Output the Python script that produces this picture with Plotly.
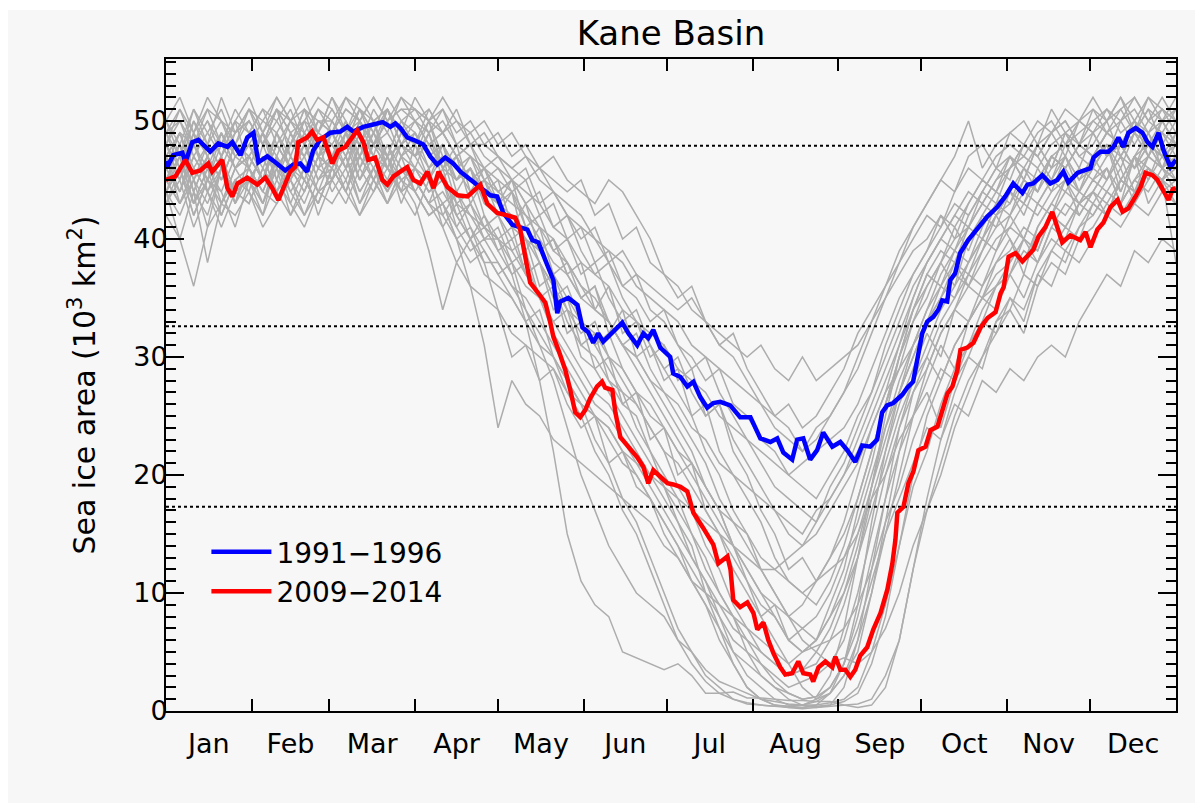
import plotly.graph_objects as go

# ---------------- data ----------------
month_names = ["Jan", "Feb", "Mar", "Apr", "May", "Jun", "Jul", "Aug", "Sep", "Oct", "Nov", "Dec"]
month_starts = [31, 59, 90, 120, 151, 181, 212, 243, 273, 304, 334]
month_mids = [15.5, 45, 74.5, 105, 135.5, 166, 196.5, 227.5, 258, 288.5, 319, 349.5]
y_ticks = [0, 10, 20, 30, 40, 50]
ref_levels = [47.9, 32.6, 17.3]

blue_label = "1991\u22121996"
red_label = "2009\u22122014"

blue_days = [0, 0.5, 2.6, 5.9, 7, 9.5, 11.7, 16, 18.9, 22.2,
             24, 26.9, 29.4, 31.6, 33.4, 36.6, 39.5, 43.1, 46, 48.5,
             51, 53.2, 55.7, 59.4, 63, 65.5, 67.7, 71.3, 74.9, 78.3,
             81.1, 82.9, 84.7, 87.2, 89.4, 93, 95.5, 98, 100.9, 103.8,
             106.4, 110, 113.6, 117.2, 119.7, 121.9, 125.2, 128.8, 130.6, 132.4,
             134.6, 137.1, 138.9, 140, 141.4, 142.5, 145.4, 148.7, 150.5, 152.6,
             154.4, 156.2, 158, 161.3, 164.9, 167.1, 170.3, 172.5, 174.3, 176.1,
             178.6, 182.2, 183.3, 185.9, 188.4, 190.6, 193.1, 195.6, 197.8, 200.3,
             203.9, 207.5, 211.2, 214.8, 218.4, 220.9, 223.1, 226.3, 228.1, 230.3,
             232.8, 235.3, 237.5, 240.8, 243.7, 246.2, 249.1, 251.6, 254.5, 257,
             258.8, 260.6, 262.8, 266.1, 267.9, 270, 271.8, 273.3, 275.1, 277.3,
             279.1, 280.5, 282.3, 283.4, 285.2, 287, 289.9, 293.2, 296.8, 300.4,
             303.3, 306.2, 309.5, 311.3, 313.4, 316.7, 319.6, 322.1, 324.3, 326.1,
             329.4, 331.6, 334.1, 335.2, 337.7, 340.6, 342.4, 344.2, 346, 347.8,
             350.4, 352.9, 354.7, 356.5, 358.7, 360.5, 363, 365]
blue_vals = [46.6, 46.1, 47.1, 47.3, 46.5, 48.2, 48.4, 47.4, 48.1, 47.8,
             48.2, 47.1, 48.6, 49.0, 46.5, 47.0, 46.5, 45.8, 46.3, 46.4,
             45.7, 47.5, 48.4, 49.0, 49.1, 49.5, 49.1, 49.5, 49.7, 49.9,
             49.5, 49.8, 49.4, 48.6, 48.4, 48.0, 47.0, 46.3, 46.9, 46.4,
             45.7, 45.0, 44.4, 43.7, 43.6, 42.2, 41.2, 40.9, 40.8, 39.9,
             39.7, 38.2, 37.1, 36.5, 33.7, 34.7, 35.0, 34.4, 32.5, 32.1,
             31.2, 32.0, 31.3, 32.1, 32.9, 32.0, 31.0, 32.0, 31.6, 32.3,
             30.8, 30.0, 28.6, 28.3, 27.5, 27.9, 26.6, 25.7, 26.1, 26.2,
             25.9, 24.9, 24.9, 23.1, 22.8, 23.1, 21.9, 21.3, 23.0, 23.1,
             21.3, 22.1, 23.6, 22.4, 22.8, 22.1, 21.1, 22.5, 22.4, 23.0,
             25.3, 25.9, 26.1, 26.8, 27.4, 27.9, 30.0, 32.0, 33.0, 33.4,
             34.0, 34.8, 34.7, 36.5, 37.1, 38.8, 39.9, 40.8, 41.9, 42.7,
             43.6, 44.7, 43.9, 44.6, 44.7, 45.4, 44.7, 45.0, 45.7, 44.8,
             45.6, 45.8, 46.0, 46.9, 47.4, 47.4, 47.8, 48.6, 47.8, 49.0,
             49.4, 49.0, 48.2, 47.8, 49.0, 47.5, 46.1, 46.7]

red_days = [0, 3.4, 7, 9.5, 12.4, 15.3, 16.7, 20.3, 22.2, 24,
            25.8, 29.4, 33, 35.9, 38.4, 40.6, 43.1, 44.9, 46.7, 47.8,
            51, 52.8, 54.6, 56.9, 60.1, 62.3, 64.8, 67.3, 69.1, 71.3,
            73.1, 75.6, 78.2, 80, 82.2, 84.7, 87.2, 89.4, 91.9, 94.5,
            96.7, 98.5, 101.7, 105.4, 109, 111.8, 113.6, 116.1, 119.7, 123.3,
            126.2, 128, 129.8, 131.6, 134.6, 137.1, 138.9, 140, 141.8, 144.3,
            146.1, 147.9, 149.7, 151.5, 153.3, 155.8, 157.6, 158.7, 161.3, 162.4,
            164.2, 167.1, 170.3, 172.5, 174.3, 176.1, 178.6, 181.2, 183.3, 185.9,
            188.4, 190.6, 193.9, 195.6, 197.8, 199.6, 202.9, 204, 205, 207.5,
            210.1, 212.3, 213.7, 215.9, 217.7, 219.5, 222, 223.8, 226.3, 228.5,
            230.3, 232.8, 233.9, 235.8, 238.3, 240.8, 241.9, 243.7, 245.5, 247.3,
            249.1, 250.9, 253.4, 255.6, 258.2, 260.7, 262.5, 263.6, 264.3, 266.5,
            268.3, 270.1, 271.9, 274.5, 276.3, 278.8, 280.6, 282.4, 284.2, 286,
            287.1, 289.6, 291.8, 294.4, 296.9, 299.8, 301.6, 302.7, 304.5, 307,
            309.5, 311.7, 313.5, 315.3, 317.8, 320.3, 322.1, 323.9, 326.8, 330.4,
            332.3, 334.1, 336.6, 338.8, 341.3, 343.9, 345.7, 347.8, 350.4, 352.2,
            354, 356.5, 358.3, 360.5, 362.3, 363.8, 365]
red_vals = [45.0, 45.3, 46.7, 45.6, 45.8, 46.4, 45.7, 46.7, 44.3, 43.6,
            44.7, 45.2, 44.6, 45.2, 44.3, 43.3, 44.7, 45.7, 46.1, 48.2,
            48.6, 49.1, 48.4, 48.6, 46.4, 47.5, 47.8, 48.6, 49.2, 48.2,
            46.7, 46.9, 45.0, 44.6, 45.3, 45.7, 46.1, 45.0, 44.7, 45.7,
            44.3, 45.7, 44.4, 43.7, 43.6, 44.2, 44.6, 43.0, 42.2, 42.0,
            41.8, 40.8, 38.5, 36.3, 35.4, 34.6, 32.9, 31.7, 30.6, 28.9,
            27.2, 25.3, 24.9, 25.5, 26.5, 27.5, 27.9, 27.4, 27.2, 25.3,
            23.2, 22.4, 21.5, 20.7, 19.3, 20.4, 19.8, 19.3, 19.2, 19.0,
            18.6, 16.8, 15.6, 14.9, 14.1, 12.5, 13.1, 12.0, 9.4, 8.8,
            9.2, 8.3, 6.9, 7.5, 6.0, 4.9, 3.7, 3.1, 3.2, 4.2,
            3.2, 3.1, 2.5, 3.7, 4.2, 3.7, 4.6, 3.5, 3.5, 2.9,
            3.5, 4.7, 5.4, 6.9, 8.3, 10.3, 12.5, 14.5, 16.8, 17.3,
            19.3, 20.3, 22.1, 22.4, 23.8, 24.1, 25.5, 26.9, 27.5, 28.9,
            30.6, 30.8, 31.2, 32.5, 33.3, 33.8, 35.4, 35.9, 38.5, 38.8,
            38.1, 38.6, 39.1, 40.2, 41.0, 42.3, 41.0, 39.7, 40.3, 39.9,
            40.6, 39.3, 40.8, 41.4, 42.7, 43.3, 42.3, 42.6, 43.6, 44.4,
            45.6, 45.4, 45.0, 44.0, 43.3, 44.2, 44.3]

# individual years (grey), sampled every 5 days (day 0 .. 365)
gray_days = list(range(0, 366, 5))
gray_a = [49, 50, 48, 51, 50, 49, 51, 50, 52, 50, 49, 51, 50, 52, 51, 50, 51, 49, 50, 51, 49, 50, 48, 49,
          47, 46, 47, 45, 44, 42, 41, 40, 38, 39, 37, 36, 35, 34, 35, 33, 32, 31, 30, 31, 29, 28, 30, 28, 29,
          30, 31, 33, 35, 37, 39, 40, 42, 41, 43, 45, 44, 46, 47, 46, 48, 49, 48, 50, 49, 51, 52, 50, 51, 50]
gray_b = [47, 49, 46, 48, 50, 47, 48, 50, 49, 51, 48, 50, 49, 51, 50, 52, 50, 51, 51, 50, 52, 50, 49, 50,
          48, 49, 47, 46, 47, 45, 44, 43, 45, 44, 42, 40, 37, 36, 34, 33, 31, 30, 28, 26, 24, 23, 22, 24, 25,
          27, 29, 32, 35, 38, 40, 42, 41, 44, 46, 45, 47, 48, 47, 49, 50, 48, 49, 50, 51, 49, 50, 52, 51, 49]
gray_c = [46, 44, 47, 45, 43, 46, 47, 45, 48, 46, 44, 47, 48, 46, 47, 49, 46, 45, 46, 44, 45, 43, 42, 40,
          40, 37, 33, 28, 22, 15, 11, 9, 8, 5, 4.5, 4, 3.5, 4, 3, 1.5, 1.5, 1.6, 1.1, 1.1, 1, 0.9, 0.9, 0.8, 0.8,
          0.5, 0.3, 0.5, 2, 6, 12, 18, 23, 27, 30, 33, 36, 38, 40, 39, 42, 41, 43, 44, 43, 45, 47, 46, 45, 46]
gray_d = [44, 42, 45, 43, 46, 44, 45, 47, 44, 46, 45, 43, 46, 44, 47, 45, 48, 46, 45, 43, 46, 42, 40, 38,
          38, 36, 34, 31, 28, 24, 20, 17, 14, 12, 10, 9, 8, 6, 5, 3.5, 2.5, 2, 1.5, 1, 0.8, 0.6, 0.5, 0.5, 0.7,
          1, 2, 5, 9, 14, 19, 22, 26, 29, 31, 34, 36, 37, 40, 38, 41, 43, 42, 44, 46, 43, 45, 47, 46, 44]
gray_e = [48, 46, 49, 47, 45, 48, 47, 49, 46, 48, 50, 47, 49, 47, 50, 48, 49, 47, 48, 46, 47, 45, 46, 44,
          43, 41, 40, 38, 36, 33, 31, 30, 28, 26, 25, 22, 20, 18, 15, 13, 10, 8, 5, 3, 2, 1, 0.5, 0.3, 0.5,
          2, 6, 12, 18, 24, 28, 31, 34, 36, 38, 40, 42, 43, 45, 44, 46, 47, 45, 47, 48, 46, 49, 48, 47, 48]
gray_f = [45, 47, 43, 46, 44, 47, 46, 44, 47, 45, 48, 46, 47, 49, 46, 48, 47, 50, 49, 47, 48, 46, 47, 45,
          44, 45, 43, 41, 40, 38, 36, 35, 33, 31, 30, 28, 26, 24, 22, 19, 17, 14, 11, 8, 6, 4, 2, 1, 1.5,
          3, 5, 10, 16, 22, 27, 30, 33, 35, 37, 39, 41, 42, 40, 43, 45, 44, 46, 45, 47, 48, 46, 47, 49, 47]
gray_g = [42, 40, 44, 38, 43, 45, 44, 41, 43, 45, 42, 44, 45, 43, 46, 44, 47, 45, 46, 44, 45, 42, 43, 41,
          40, 39, 37, 35, 32, 30, 28, 26, 25, 23, 21, 19, 17, 15, 13, 11, 9, 7, 6, 5, 4, 3, 3.5, 4, 6,
          9, 13, 18, 22, 26, 29, 32, 30, 34, 36, 35, 38, 39, 41, 40, 42, 44, 43, 45, 44, 46, 43, 45, 47, 45]
gray_h = [47, 45, 48, 46, 49, 47, 48, 46, 49, 47, 45, 48, 47, 49, 48, 50, 47, 48, 47, 48, 46, 45, 46, 43,
          42, 40, 41, 38, 36, 34, 33, 31, 29, 27, 26, 24, 22, 21, 19, 17, 15, 13, 11, 9, 8, 6, 5, 6, 8,
          11, 15, 19, 24, 28, 31, 34, 36, 38, 37, 40, 42, 44, 43, 45, 47, 46, 48, 47, 49, 48, 50, 48, 47, 49]
gray_i = [50, 48, 51, 49, 47, 50, 49, 51, 48, 50, 52, 49, 51, 49, 52, 50, 51, 48, 49, 47, 48, 46, 44, 45,
          43, 42, 40, 39, 37, 35, 33, 32, 30, 29, 27, 25, 24, 22, 21, 19, 17, 16, 15, 13, 12, 11, 10, 11, 13,
          15, 18, 22, 26, 30, 33, 36, 38, 40, 41, 43, 45, 46, 48, 47, 49, 50, 48, 49, 51, 50, 48, 50, 52, 50]
gray_j = [46, 48, 45, 47, 49, 46, 47, 49, 46, 48, 47, 49, 48, 50, 47, 49, 51, 48, 50, 48, 49, 47, 45, 46,
          44, 43, 42, 40, 38, 37, 35, 34, 33, 31, 30, 28, 27, 26, 24, 23, 21, 20, 19, 18, 17, 16, 15, 17, 18,
          20, 22, 25, 28, 31, 34, 37, 39, 38, 41, 43, 42, 44, 46, 45, 47, 46, 48, 47, 49, 48, 46, 48, 50, 48]
gray_k = [49, 47, 50, 48, 46, 49, 50, 48, 51, 49, 47, 50, 49, 51, 50, 48, 50, 52, 51, 49, 50, 48, 49, 47,
          46, 45, 44, 43, 41, 40, 38, 37, 36, 34, 33, 32, 31, 29, 28, 27, 25, 24, 23, 22, 21, 20, 21, 22, 23,
          24, 26, 29, 32, 35, 37, 39, 41, 43, 42, 44, 46, 47, 46, 48, 49, 47, 50, 49, 50, 52, 50, 49, 51, 50]
gray_l = [43, 45, 41, 44, 46, 43, 45, 43, 46, 44, 42, 45, 46, 44, 47, 45, 43, 46, 44, 42, 43, 41, 39, 40,
          38, 36, 35, 33, 31, 29, 27, 25, 24, 22, 20, 18, 16, 14, 11, 9, 6, 4, 2, 1, 0.5, 0.3, 0.2, 0.3, 0.4,
          0.5, 0.6, 1, 3, 6, 12, 17, 21, 25, 28, 30, 33, 34, 32, 36, 38, 37, 40, 41, 43, 42, 44, 46, 45, 43]
gray_m = [48, 50, 47, 49, 51, 48, 50, 48, 51, 49, 50, 52, 51, 49, 50, 52, 50, 51, 50, 49, 51, 48, 47, 46,
          45, 44, 42, 41, 39, 38, 36, 34, 33, 31, 29, 27, 25, 23, 21, 19, 17, 14, 12, 10, 9, 8, 9, 11, 13,
          16, 20, 24, 27, 31, 35, 38, 40, 42, 44, 43, 45, 47, 45, 48, 46, 49, 47, 46, 48, 44, 47, 43, 45, 38]
gray_n = [44, 40, 36, 41, 43, 42, 44, 42, 45, 43, 41, 44, 43, 45, 42, 44, 46, 44, 45, 43, 41, 38, 40, 37,
          36, 35, 33, 31, 30, 28, 26, 25, 23, 21, 20, 18, 16, 14, 12, 10, 8, 6, 5, 4, 3, 2, 2.5, 3, 4,
          6, 10, 15, 20, 24, 27, 29, 32, 34, 33, 36, 38, 40, 38, 41, 43, 42, 44, 43, 45, 47, 44, 46, 45, 47]
gray_o = [47, 49, 48, 50, 48, 51, 49, 51, 50, 48, 51, 50, 50, 48, 51, 49, 52, 50, 51, 50, 49, 51, 48, 48,
          47, 46, 45, 46, 44, 43, 42, 40, 39, 38, 36, 35, 34, 33, 31, 30, 29, 28, 27, 26, 25, 26, 24, 25, 27,
          29, 32, 34, 36, 38, 41, 43, 45, 47, 50, 46, 48, 49, 50, 48, 51, 49, 50, 51, 50, 52, 49, 51, 50, 52]
gray_p = [45, 43, 46, 44, 42, 45, 46, 44, 43, 45, 47, 44, 45, 47, 44, 46, 43, 45, 43, 39, 34, 38, 36, 35,
          34, 32, 31, 30, 29, 27, 26, 25, 24, 22, 21, 20, 19, 18, 17, 16, 15, 14, 13, 12, 12, 13, 14, 15, 17,
          19, 21, 24, 27, 29, 31, 33, 35, 37, 36, 38, 40, 41, 43, 42, 44, 45, 43, 45, 46, 44, 47, 48, 46, 45]
gray_q = [46, 48, 44, 47, 45, 48, 47, 45, 48, 46, 49, 47, 46, 48, 45, 47, 46, 44, 45, 43, 42, 40, 36, 31,
          24, 28, 26, 25, 23, 22, 21, 20, 19, 18, 17, 16, 14, 13, 11, 10, 9, 8, 7, 6, 5, 4, 5, 6, 8,
          10, 13, 17, 21, 25, 28, 30, 28, 31, 33, 35, 36, 37, 35, 38, 40, 39, 41, 42, 44, 43, 45, 44, 46, 45]
gray_r = [44, 46, 43, 45, 47, 44, 45, 47, 44, 46, 48, 45, 47, 45, 48, 46, 44, 47, 46, 45, 43, 44, 42, 41,
          40, 38, 36, 35, 33, 31, 29, 27, 26, 24, 22, 20, 18, 16, 13, 11, 8, 5, 3, 2, 1, 0.5, 0.5, 1, 2,
          4, 7, 11, 15, 18, 21, 24, 23, 26, 25, 28, 27, 29, 28, 30, 31, 30, 33, 35, 37, 36, 39, 38, 40, 39]
gray_s = [47, 43, 45, 41, 46, 44, 45, 42, 47, 43, 46, 44, 47, 44, 48, 45, 47, 43, 46, 44, 45, 41, 43, 40,
          41, 38, 39, 35, 36, 32, 33, 29, 30, 26, 27, 23, 24, 20, 21, 17, 15, 12, 10, 8, 9, 6, 7, 6, 9,
          12, 17, 21, 26, 29, 33, 35, 38, 36, 40, 42, 41, 44, 43, 46, 44, 47, 45, 46, 48, 45, 47, 49, 46, 47]
gray_t = [50, 47, 51, 48, 52, 49, 50, 48, 51, 47, 50, 49, 52, 49, 51, 48, 50, 47, 49, 46, 48, 45, 47, 44,
          45, 41, 43, 39, 40, 37, 38, 34, 36, 32, 33, 30, 31, 28, 29, 25, 26, 22, 20, 17, 15, 12, 13, 11, 12,
          13, 15, 18, 20, 23, 25, 27, 24, 28, 30, 29, 33, 35, 33, 37, 39, 38, 41, 43, 42, 45, 44, 47, 46, 48]
gray_u = [45, 48, 44, 47, 43, 46, 48, 45, 49, 46, 44, 47, 46, 49, 45, 48, 46, 49, 47, 45, 48, 44, 46, 42,
          40, 41, 37, 38, 34, 35, 31, 32, 28, 27, 24, 22, 19, 16, 14, 10, 7, 4, 2, 1, 0.5, 0.4, 0.3, 0.5, 1.5,
          4, 9, 16, 22, 27, 31, 34, 37, 39, 38, 41, 43, 42, 45, 44, 47, 46, 48, 47, 49, 48, 50, 47, 49, 48]
gray_v = [48, 51, 49, 52, 50, 48, 51, 49, 52, 50, 51, 49, 52, 50, 48, 51, 49, 52, 50, 48, 49, 47, 48, 45,
          46, 44, 45, 42, 43, 40, 41, 38, 39, 36, 35, 33, 34, 31, 30, 28, 29, 26, 25, 23, 22, 20, 19, 18, 20,
          22, 25, 27, 30, 33, 36, 38, 40, 42, 41, 44, 46, 45, 48, 47, 49, 50, 48, 51, 49, 50, 52, 50, 49, 51]
gray_w = [44, 46, 42, 45, 47, 43, 46, 44, 47, 45, 43, 46, 45, 47, 44, 46, 48, 45, 44, 42, 43, 40, 41, 38,
          34, 30, 31, 28, 29, 26, 24, 25, 21, 22, 19, 18, 15, 13, 11, 9, 7, 5, 4, 3, 2, 1.5, 1, 1.2, 2,
          4, 8, 13, 18, 22, 25, 28, 31, 29, 33, 35, 34, 37, 39, 38, 41, 40, 43, 42, 44, 43, 45, 46, 44, 45]
gray_x = [46, 44, 47, 45, 48, 46, 47, 45, 48, 46, 49, 47, 48, 46, 49, 47, 45, 48, 47, 49, 46, 47, 45, 46,
          44, 45, 43, 44, 41, 42, 39, 37, 38, 35, 33, 31, 29, 27, 25, 22, 20, 17, 15, 12, 10, 8, 6, 5, 4,
          4.5, 4, 5, 7, 10, 14, 17, 20, 24, 27, 30, 32, 34, 37, 36, 39, 41, 40, 43, 42, 45, 44, 46, 45, 47]
gray_y = [49, 46, 50, 47, 45, 48, 46, 49, 47, 50, 48, 46, 49, 47, 50, 48, 46, 49, 48, 50, 47, 45, 46, 44,
          43, 44, 41, 39, 40, 37, 35, 36, 33, 31, 32, 29, 27, 25, 23, 21, 18, 16, 14, 12, 10, 8, 7, 8, 10,
          13, 16, 20, 24, 27, 30, 33, 35, 38, 36, 39, 42, 40, 37, 41, 43, 45, 42, 44, 46, 43, 47, 45, 48, 46]
gray_z = [45, 43, 46, 44, 41, 44, 43, 46, 44, 42, 45, 43, 46, 44, 42, 45, 43, 46, 44, 42, 43, 40, 38, 39,
          37, 35, 33, 34, 30, 28, 26, 23, 21, 18, 16, 13, 10, 7, 5, 3, 2, 1, 0.6, 0.5, 0.4, 0.4, 0.5, 0.8, 1.5,
          3, 6, 10, 15, 20, 25, 29, 32, 34, 37, 36, 39, 41, 40, 43, 42, 45, 44, 46, 45, 47, 46, 48, 47, 46]
gray_aa = [48, 45, 49, 44, 47, 50, 46, 49, 45, 48, 51, 47, 49, 46, 50, 47, 51, 48, 47, 50, 46, 48, 44, 46,
           43, 45, 41, 42, 39, 40, 37, 38, 35, 33, 34, 31, 29, 30, 27, 25, 26, 23, 21, 19, 17, 15, 14, 16, 19,
           21, 24, 27, 31, 34, 37, 39, 42, 40, 43, 45, 44, 47, 45, 48, 46, 49, 47, 48, 50, 47, 49, 51, 48, 50]
gray_ab = [46, 49, 45, 48, 46, 43, 47, 45, 49, 46, 48, 45, 47, 50, 46, 49, 47, 44, 48, 45, 47, 43, 44, 41,
           42, 39, 40, 36, 37, 34, 32, 33, 30, 28, 26, 24, 22, 19, 17, 14, 12, 9, 7, 5, 4, 3, 3.5, 5, 7,
           10, 14, 19, 23, 27, 30, 33, 36, 35, 38, 40, 39, 42, 44, 43, 45, 47, 44, 46, 48, 47, 49, 47, 50, 48]
gray_ac = [50, 52, 49, 51, 48, 50, 52, 49, 51, 50, 48, 51, 49, 52, 50, 48, 51, 49, 52, 50, 51, 49, 50, 48,
           49, 47, 48, 46, 45, 44, 45, 42, 43, 40, 41, 38, 37, 35, 36, 33, 31, 32, 29, 27, 25, 24, 22, 23, 25,
           27, 30, 33, 36, 39, 41, 43, 45, 44, 47, 48, 46, 49, 48, 50, 49, 51, 50, 52, 50, 51, 49, 52, 50, 51]
gray_ad = [45, 47, 44, 42, 46, 44, 43, 46, 44, 47, 45, 43, 46, 48, 45, 47, 44, 46, 45, 43, 44, 42, 40, 41,
           39, 37, 38, 35, 33, 34, 30, 29, 27, 25, 23, 21, 19, 17, 15, 12, 10, 8, 6, 4, 2.5, 1.5, 1, 1.2, 3,
           7, 13, 19, 25, 30, 34, 37, 36, 39, 41, 40, 43, 44, 42, 45, 47, 46, 44, 47, 45, 48, 46, 49, 47, 48]
gray_ae = [47, 44, 48, 45, 49, 46, 44, 48, 45, 49, 46, 48, 45, 49, 47, 50, 46, 48, 46, 49, 45, 47, 43, 45,
           42, 44, 39, 41, 37, 38, 35, 36, 32, 34, 30, 31, 28, 29, 25, 26, 22, 20, 18, 16, 13, 11, 10, 9, 11,
           14, 18, 22, 26, 30, 34, 36, 38, 41, 39, 42, 44, 43, 46, 44, 47, 48, 46, 49, 47, 48, 50, 48, 46, 49]
gray_af = [43, 46, 42, 45, 44, 41, 45, 43, 46, 42, 44, 47, 44, 46, 43, 45, 47, 44, 42, 45, 41, 43, 40, 42,
           39, 40, 37, 38, 35, 36, 33, 31, 32, 29, 27, 26, 24, 22, 20, 18, 16, 14, 12, 10, 8, 6, 5, 5.5, 6,
           7, 9, 12, 16, 19, 23, 26, 29, 28, 31, 33, 32, 35, 34, 37, 36, 39, 38, 40, 42, 41, 43, 42, 44, 43]
gray_ag = [49, 51, 48, 50, 47, 49, 51, 48, 50, 52, 49, 47, 50, 48, 51, 49, 47, 50, 48, 51, 49, 47, 48, 46,
           47, 45, 46, 43, 44, 42, 40, 41, 38, 36, 37, 34, 33, 31, 29, 30, 27, 25, 23, 21, 19, 18, 17, 16, 18,
           20, 23, 26, 29, 32, 35, 38, 40, 39, 42, 44, 43, 46, 48, 47, 45, 48, 50, 49, 47, 50, 51, 49, 50, 48]
gray_ah = [44, 47, 43, 46, 42, 45, 46, 43, 47, 44, 46, 42, 45, 47, 43, 46, 44, 47, 44, 46, 42, 44, 41, 39,
           37, 38, 34, 32, 30, 27, 25, 22, 20, 17, 15, 12, 9, 6, 4, 2.5, 1.5, 1, 0.7, 0.5, 0.4, 0.3, 0.3, 0.4, 0.5,
           0.8, 1.5, 4, 8, 14, 20, 25, 28, 31, 33, 35, 37, 38, 40, 39, 42, 41, 43, 44, 42, 45, 44, 46, 45, 44]

gray_series = [gray_a, gray_b, gray_c, gray_d, gray_e, gray_f, gray_g, gray_h, gray_i,
               gray_j, gray_k, gray_l, gray_m, gray_n, gray_o, gray_p, gray_q, gray_r,
               gray_s, gray_t, gray_u, gray_v, gray_w, gray_x, gray_y, gray_z,
               gray_aa, gray_ab, gray_ac, gray_ad, gray_ae, gray_af, gray_ag, gray_ah]

# ---------------- figure ----------------
FONT = "DejaVu Sans"
fig = go.Figure()

for vals in gray_series:
    fig.add_trace(go.Scatter(x=gray_days, y=vals, mode="lines",
                             line=dict(color="#adadad", width=1.5),
                             showlegend=False, hoverinfo="skip"))

for lvl in ref_levels:
    fig.add_trace(go.Scatter(x=[0, 365], y=[lvl, lvl], mode="lines",
                             line=dict(color="black", width=2, dash="dot"),
                             showlegend=False, hoverinfo="skip"))

fig.add_trace(go.Scatter(x=blue_days, y=blue_vals, mode="lines", name=blue_label,
                         line=dict(color="#0000ff", width=4.5)))
fig.add_trace(go.Scatter(x=red_days, y=red_vals, mode="lines", name=red_label,
                         line=dict(color="#ff0000", width=4.5)))

# plot area: 1010 x 652 px
ML, MT, PW, PH = 158, 51, 1010, 652
fig.update_layout(
    width=1203, height=806,
    margin=dict(l=ML, r=1203 - ML - PW, t=MT, b=806 - MT - PH),
    paper_bgcolor="white",
    plot_bgcolor="#f7f7f7",
    font=dict(family=FONT, size=27, color="black"),
    title=dict(text="Kane Basin", x=0.5, xref="paper", xanchor="center",
               y=1 - 25 / 806, yref="container", yanchor="middle",
               font=dict(family=FONT, size=34, color="black")),
    legend=dict(x=0.04, y=0.282, xanchor="left", yanchor="top",
                bgcolor="rgba(0,0,0,0)", font=dict(family=FONT, size=28),
                itemwidth=60, tracegroupgap=0),
    shapes=[dict(type="rect", xref="paper", yref="paper",
                 x0=-ML / PW, x1=(1192 - ML) / PW,
                 y0=(MT + PH - 795) / PH, y1=(MT + PH - 2) / PH,
                 fillcolor="#f7f7f7", line=dict(width=0), layer="below")],
)

fig.update_xaxes(
    range=[0, 365], showgrid=False, zeroline=False, automargin=False,
    showline=True, linecolor="black", linewidth=2, mirror="allticks",
    tickmode="array", tickvals=month_mids, ticktext=month_names,
    ticks="", ticklabelstandoff=8,
    tickfont=dict(family=FONT, size=27, color="black"),
    minor=dict(tickmode="array", tickvals=month_starts, ticks="inside",
               ticklen=12, tickwidth=2, tickcolor="black", showgrid=False),
)
fig.update_yaxes(
    range=[0, 55.25], showgrid=False, zeroline=False, automargin=False,
    showline=True, linecolor="black", linewidth=2, mirror="allticks",
    tickmode="array", tickvals=y_ticks,
    ticks="inside", ticklen=18, tickwidth=2, tickcolor="black",
    ticklabelstandoff=-9,
    tickfont=dict(family=FONT, size=27, color="black"),
    minor=dict(dtick=1, tick0=0, ticks="inside", ticklen=10, tickwidth=2,
               tickcolor="black", showgrid=False),
    title=dict(text="Sea ice area (10<sup>3</sup> km<sup>2</sup>)", standoff=29,
               font=dict(family=FONT, size=30, color="black")),
)

fig.write_html("out.html")
